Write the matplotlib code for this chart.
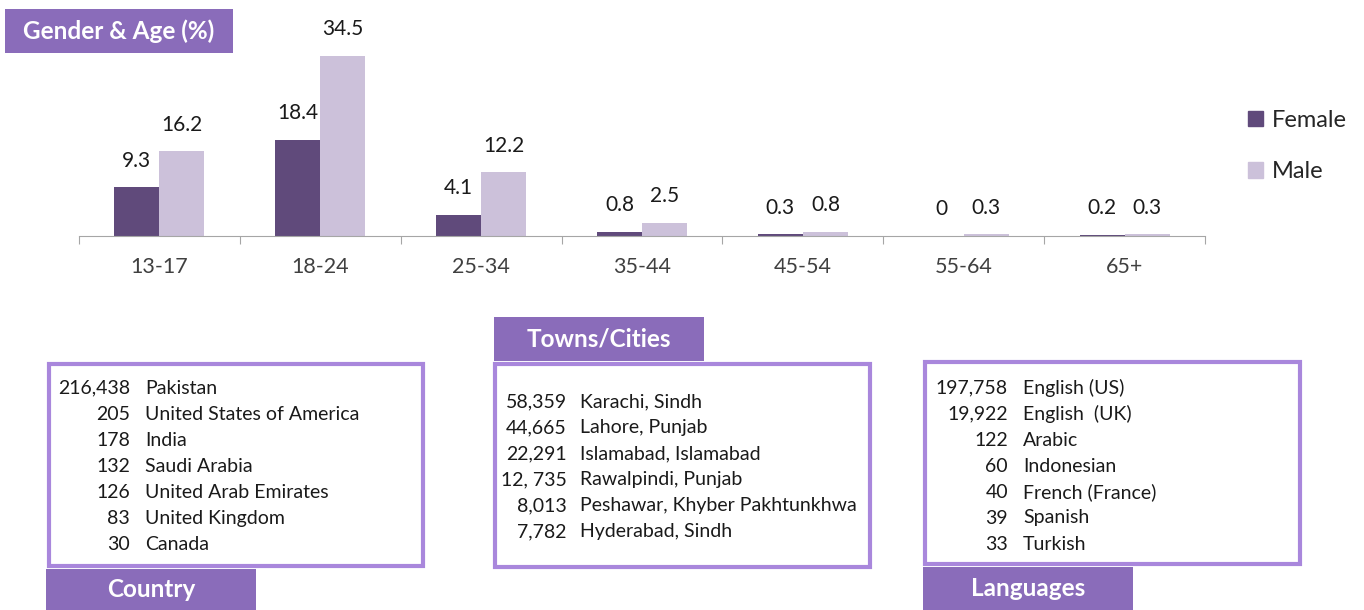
import matplotlib.pyplot as plt
from matplotlib.patches import Rectangle
import numpy as np

plt.rcParams["font.family"] = ["Lato", "DejaVu Sans"]

# Gender & Age (%)
age_groups = ["13-17", "18-24", "25-34", "35-44", "45-54", "55-64", "65+"]
female = [9.3, 18.4, 4.1, 0.8, 0.3, 0, 0.2]
male = [16.2, 34.5, 12.2, 2.5, 0.8, 0.3, 0.3]

# Country
country_counts = ["216,438", "205", "178", "132", "126", "83", "30"]
country_names = ["Pakistan", "United States of America", "India", "Saudi Arabia",
                 "United Arab Emirates", "United Kingdom", "Canada"]

# Towns/Cities
city_counts = ["58,359", "44,665", "22,291", "12, 735", "8,013", "7,782"]
city_names = ["Karachi, Sindh", "Lahore, Punjab", "Islamabad, Islamabad",
              "Rawalpindi, Punjab", "Peshawar, Khyber Pakhtunkhwa", "Hyderabad, Sindh"]

# Languages
lang_counts = ["197,758", "19,922", "122", "60", "40", "39", "33"]
lang_names = ["English (US)", "English  (UK)", "Arabic", "Indonesian",
              "French (France)", "Spanish", "Turkish"]

FEMALE_C = "#604a7b"
MALE_C = "#ccc1da"
HEAD_C = "#8a6cba"
BORDER_C = "#a987dc"
TEXT_C = "#1a1a1a"

W, H = 1364, 610
fig = plt.figure(figsize=(W / 100, H / 100), dpi=100)

# ---- bar chart ----
ax = fig.add_axes([79 / W, (H - 236) / H, (1205 - 79) / W, (236 - 30) / H])
x = np.arange(len(age_groups))
bw = 0.28
b1 = ax.bar(x - bw / 2, female, bw, color=FEMALE_C, label="Female")
b2 = ax.bar(x + bw / 2, male, bw, color=MALE_C, label="Male")
for bars in (b1, b2):
    ax.bar_label(bars, fmt="{:g}", padding=12, fontsize=15, color=TEXT_C)

ax.set_xlim(-0.5, len(age_groups) - 0.5)
ax.set_ylim(0, 39.4)
for s in ("top", "left", "right"):
    ax.spines[s].set_visible(False)
ax.spines["bottom"].set_color("#a6a6a6")
ax.set_yticks([])
ax.set_xticks(np.arange(len(age_groups) + 1) - 0.5)
ax.set_xticklabels([])
ax.tick_params(axis="x", which="major", length=6, color="#a6a6a6")
ax.set_xticks(x, minor=True)
ax.set_xticklabels(age_groups, minor=True)
ax.tick_params(axis="x", which="minor", length=0, pad=15, labelsize=15.5,
               labelcolor="#404040")

handles = [Rectangle((0, 0), 1, 1, color=FEMALE_C), Rectangle((0, 0), 1, 1, color=MALE_C)]
ax.legend(handles, ["Female", "Male"], loc="center left",
          bbox_to_anchor=(1227 / W, (H - 146) / H), bbox_transform=fig.transFigure,
          frameon=False, fontsize=17, handlelength=0.62, handleheight=0.62,
          handletextpad=0.4, labelspacing=1.3, labelcolor="#262626")

# ---- overlay in pixel coordinates ----
ov = fig.add_axes([0, 0, 1, 1])
ov.set_xlim(0, W)
ov.set_ylim(H, 0)
ov.axis("off")


def header(x0, y0, w, h, text):
    ov.add_patch(Rectangle((x0, y0), w, h, color=HEAD_C, lw=0))
    ov.text(x0 + w / 2, y0 + h / 2, text, color="white", fontsize=17.5,
            fontweight="bold", ha="center", va="center")


def panel(x0, y0, x1, y1):
    ov.add_patch(Rectangle((x0, y0), x1 - x0, y1 - y0, facecolor="white",
                           edgecolor=BORDER_C, lw=3))


def rows(counts, names, num_x, name_x, y0, dy):
    for i, (c, n) in enumerate(zip(counts, names)):
        y = y0 + i * dy
        ov.text(num_x, y, c, ha="right", va="center", fontsize=14, color=TEXT_C)
        ov.text(name_x, y, n, ha="left", va="center", fontsize=14, color=TEXT_C)


header(5, 9, 228, 44, "Gender & Age (%)")

panel(49, 364, 423, 566)
header(46, 569, 210, 41, "Country")
rows(country_counts, country_names, 130, 145, 388, 26.1)

header(494, 317, 210, 44, "Towns/Cities")
panel(495, 364, 870, 567)
rows(city_counts, city_names, 567, 580, 402, 26)

panel(925, 362, 1300, 564)
header(923, 567, 210, 43, "Languages")
rows(lang_counts, lang_names, 1008, 1023, 388, 26)

fig.savefig("out.png", dpi=100)
